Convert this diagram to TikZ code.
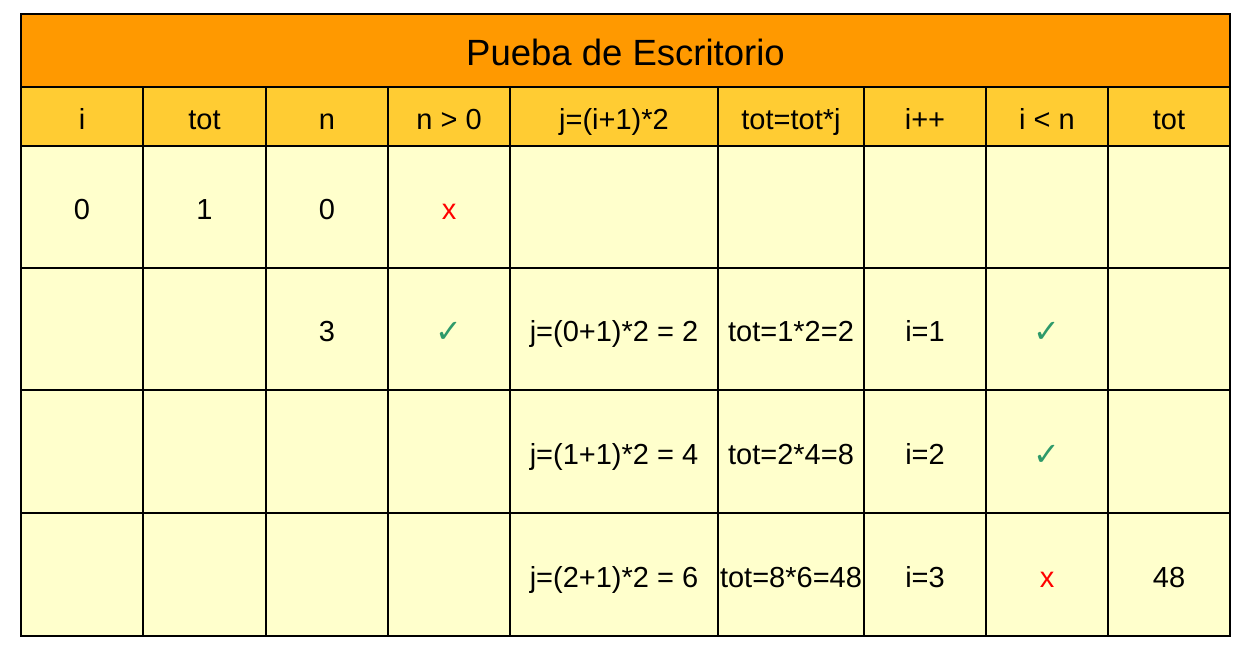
\documentclass[tikz,border=0pt]{standalone}
\usepackage{fontspec}
\setmainfont{Liberation Sans}
\newfontfamily\symfont{DejaVu Sans}
\definecolor{titleorange}{HTML}{FF9900}
\definecolor{headyellow}{HTML}{FFCC33}
\definecolor{bodyyellow}{HTML}{FFFFCC}
\definecolor{checkgreen}{HTML}{2E9A6A}
\definecolor{crossred}{HTML}{FF0000}
\newcommand\mycell[7]{\node[#6, minimum width={#4-#2}, minimum height={#5-#3}] (#1) at ({(#2+#4)/2},{650-(#3+#5)/2}) {#7};}
\newcommand\ok{{\color{checkgreen}\symfont\fontsize{32}{36}\selectfont\raisebox{-1pt}{✓}}}
\newcommand\no{{\color{crossred}x}}
\begin{document}
\begin{tikzpicture}[x=1pt,y=1pt,
  cellbase/.style={rectangle, draw=black, line width=2pt, inner sep=0pt, outer sep=0pt, text height=26pt, text depth=0pt, font=\fontsize{29}{34}\selectfont},
  titlecell/.style={cellbase, fill=titleorange, text height=30pt, text depth=0pt, font=\fontsize{36.5}{40}\selectfont},
  headcell/.style={cellbase, fill=headyellow},
  bodycell/.style={cellbase, fill=bodyyellow}]
\useasboundingbox (0,0) rectangle (1253,650);
\mycell{title}{21}{14}{1230}{87}{titlecell}{Pueba de Escritorio}
% header
\mycell{h1}{21}{87}{143}{146}{headcell}{i}
\mycell{h2}{143}{87}{266}{146}{headcell}{tot}
\mycell{h3}{266}{87}{388}{146}{headcell}{n}
\mycell{h4}{388}{87}{510}{146}{headcell}{n > 0}
\mycell{h5}{510}{87}{718}{146}{headcell}{j=(i+1)*2}
\mycell{h6}{718}{87}{864}{146}{headcell}{tot=tot*j}
\mycell{h7}{864}{87}{986}{146}{headcell}{i++}
\mycell{h8}{986}{87}{1108}{146}{headcell}{i < n}
\mycell{h9}{1108}{87}{1230}{146}{headcell}{tot}
% row 1
\mycell{a1}{21}{146}{143}{268}{bodycell}{0}
\mycell{a2}{143}{146}{266}{268}{bodycell}{1}
\mycell{a3}{266}{146}{388}{268}{bodycell}{0}
\mycell{a4}{388}{146}{510}{268}{bodycell}{\no}
\mycell{a5}{510}{146}{718}{268}{bodycell}{}
\mycell{a6}{718}{146}{864}{268}{bodycell}{}
\mycell{a7}{864}{146}{986}{268}{bodycell}{}
\mycell{a8}{986}{146}{1108}{268}{bodycell}{}
\mycell{a9}{1108}{146}{1230}{268}{bodycell}{}
% row 2
\mycell{b1}{21}{268}{143}{390}{bodycell}{}
\mycell{b2}{143}{268}{266}{390}{bodycell}{}
\mycell{b3}{266}{268}{388}{390}{bodycell}{3}
\mycell{b4}{388}{268}{510}{390}{bodycell}{\ok}
\mycell{b5}{510}{268}{718}{390}{bodycell}{j=(0+1)*2 = 2}
\mycell{b6}{718}{268}{864}{390}{bodycell}{tot=1*2=2}
\mycell{b7}{864}{268}{986}{390}{bodycell}{i=1}
\mycell{b8}{986}{268}{1108}{390}{bodycell}{\ok}
\mycell{b9}{1108}{268}{1230}{390}{bodycell}{}
% row 3
\mycell{c1}{21}{390}{143}{513}{bodycell}{}
\mycell{c2}{143}{390}{266}{513}{bodycell}{}
\mycell{c3}{266}{390}{388}{513}{bodycell}{}
\mycell{c4}{388}{390}{510}{513}{bodycell}{}
\mycell{c5}{510}{390}{718}{513}{bodycell}{j=(1+1)*2 = 4}
\mycell{c6}{718}{390}{864}{513}{bodycell}{tot=2*4=8}
\mycell{c7}{864}{390}{986}{513}{bodycell}{i=2}
\mycell{c8}{986}{390}{1108}{513}{bodycell}{\ok}
\mycell{c9}{1108}{390}{1230}{513}{bodycell}{}
% row 4
\mycell{d1}{21}{513}{143}{636}{bodycell}{}
\mycell{d2}{143}{513}{266}{636}{bodycell}{}
\mycell{d3}{266}{513}{388}{636}{bodycell}{}
\mycell{d4}{388}{513}{510}{636}{bodycell}{}
\mycell{d5}{510}{513}{718}{636}{bodycell}{j=(2+1)*2 = 6}
\mycell{d6}{718}{513}{864}{636}{bodycell}{tot=8*6=48}
\mycell{d7}{864}{513}{986}{636}{bodycell}{i=3}
\mycell{d8}{986}{513}{1108}{636}{bodycell}{\no}
\mycell{d9}{1108}{513}{1230}{636}{bodycell}{48}
\draw[line width=2.5pt] (title.north west) rectangle (d9.south east);
\end{tikzpicture}
\end{document}
